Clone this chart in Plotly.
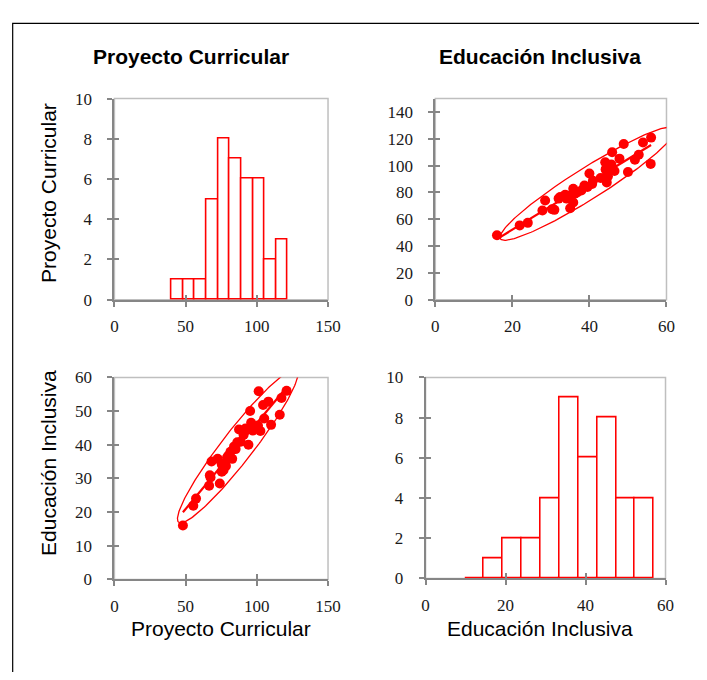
import numpy as np
import plotly.graph_objects as go

# ---------------- data ----------------
educacion_inclusiva = [16.0, 21.9, 24.0, 27.8, 30.3, 30.9, 32.0, 32.4, 33.7, 34.1,
                       35.0, 35.8, 35.8, 36.2, 37.9, 38.7, 40.0, 40.7, 40.9, 42.9,
                       44.1, 44.2, 45.1, 45.7, 45.9, 47.8, 48.9, 50.0, 51.8, 52.8,
                       53.9, 56.0, 55.9, 28.5, 34.5, 36.8, 39.5, 44.5, 44.8, 46.5]
proyecto_curricular = [48.1, 55.4, 57.3, 66.5, 67.5, 67.0, 75.4, 76.6, 78.3, 75.4,
                       68.2, 72.5, 82.7, 79.1, 81.5, 85.1, 94.1, 86.3, 88.7, 90.7,
                       102.5, 97.2, 98.9, 100.8, 110.0, 105.2, 116.1, 95.3, 104.4, 108.1,
                       117.3, 120.9, 101.3, 74.0, 77.5, 80.0, 84.0, 87.5, 92.0, 96.0]

pc_edges = [40.0, 48.18, 56.36, 64.54, 72.72, 80.9, 89.08, 97.26, 105.44, 113.62, 121.8]
pc_counts = [1, 1, 1, 5, 8, 7, 6, 6, 2, 3]
ei_edges = [9.9, 14.62, 19.34, 24.06, 28.78, 33.5, 38.22, 42.94, 47.66, 52.38, 57.1]
ei_counts = [0, 1, 2, 2, 4, 9, 6, 8, 4, 4]

title_pc = "Proyecto Curricular"
title_ei = "Educación Inclusiva"

RED = "#FF0000"
AXIS = "#868686"
FRAME = "#BFBFBF"

# the page body has an 8px margin; the figure fills the rest of the 707x680 window
OFF = 8
W, H = 707 - 2 * OFF, 680 - 2 * OFF


def px_x(v):
    return (v - OFF) / W


def px_y(v):
    return 1 - (v - OFF) / H


fig = go.Figure()


def add_hist(edges, counts, xa, ya):
    e = np.array(edges)
    c = np.array(counts)
    centers = (e[:-1] + e[1:]) / 2
    widths = e[1:] - e[:-1]
    fig.add_trace(go.Bar(x=centers, y=c, width=widths, base=0,
                         marker=dict(color="white", line=dict(color=RED, width=1.6)),
                         xaxis=xa, yaxis=ya, showlegend=False, hoverinfo="skip"))
    # zero-count bins: draw their flat outline
    zx = []
    zy = []
    for i in range(len(c)):
        if c[i] == 0:
            zx += [e[i], e[i + 1], None]
            zy += [0, 0, None]
    if zx:
        fig.add_trace(go.Scatter(x=zx, y=zy, mode="lines", line=dict(color=RED, width=2),
                                 xaxis=xa, yaxis=ya, showlegend=False, cliponaxis=False,
                                 hoverinfo="skip"))


def add_scatter(xv, yv, xa, ya):
    x = np.array(xv)
    y = np.array(yv)
    # confidence ellipse (95%)
    m = np.array([x.mean(), y.mean()])
    cov = np.cov(x, y)
    vals, vecs = np.linalg.eigh(cov)
    t = np.linspace(0, 2 * np.pi, 240)
    k = np.sqrt(5.991)
    pts = (vecs @ (np.sqrt(vals)[:, None] * np.vstack([np.cos(t), np.sin(t)]))) * k
    fig.add_trace(go.Scatter(x=m[0] + pts[0], y=m[1] + pts[1], mode="lines",
                             line=dict(color=RED, width=1.3), xaxis=xa, yaxis=ya,
                             showlegend=False, hoverinfo="skip"))
    # regression line
    b, a = np.polyfit(x, y, 1)
    xl = np.array([x.min(), x.max()])
    fig.add_trace(go.Scatter(x=xl, y=a + b * xl, mode="lines",
                             line=dict(color=RED, width=2.2), xaxis=xa, yaxis=ya,
                             showlegend=False, hoverinfo="skip"))
    fig.add_trace(go.Scatter(x=x, y=y, mode="markers",
                             marker=dict(color=RED, size=10), xaxis=xa, yaxis=ya,
                             showlegend=False))


add_hist(pc_edges, pc_counts, "x", "y")
add_scatter(educacion_inclusiva, proyecto_curricular, "x2", "y2")
add_scatter(proyecto_curricular, educacion_inclusiva, "x3", "y3")
add_hist(ei_edges, ei_counts, "x4", "y4")

# subplot geometry (window pixels)
boxes = {
    1: (113, 332, 92, 299),
    2: (442, 679, 92, 299),
    3: (113, 332, 379, 587),
    4: (432, 678, 379, 586),
}
ranges = {
    1: ([0, 150], 50, [0, 10], 2),
    2: ([0, 60], 20, [0, 150], 20),
    3: ([0, 150], 50, [0, 60], 10),
    4: ([0, 60], 20, [0, 10], 2),
}

tickfont = dict(family="Liberation Serif, Cambria, serif", size=17, color="#1a1a1a")
layout = {}
for i in range(1, 5):
    x0, x1, y0, y1 = boxes[i]
    xr, dx, yr, dy = ranges[i]
    xs = "" if i == 1 else str(i)
    ytop = 140 if i == 2 else yr[1]
    yvals = [float(v) for v in np.arange(yr[0], ytop + 0.001, dy)]
    xdom = [px_x(x0), px_x(x1)]
    ydom = [px_y(y1), px_y(y0)]
    common_x = dict(domain=xdom, range=xr, dtick=dx, tick0=0, showgrid=False,
                    zeroline=False, fixedrange=True)
    common_y = dict(domain=ydom, range=yr, tickvals=yvals, showgrid=False,
                    zeroline=False, fixedrange=True)
    layout["xaxis" + xs] = dict(common_x, anchor="y" + xs, showline=True, linecolor=AXIS,
                                linewidth=2, ticks="outside", ticklen=5, tickwidth=2,
                                tickcolor=AXIS, tickfont=tickfont, ticklabelstandoff=5)
    layout["yaxis" + xs] = dict(common_y, anchor="x" + xs, showline=True, linecolor=AXIS,
                                linewidth=2, ticks="outside", ticklen=5, tickwidth=2,
                                tickcolor=AXIS, tickfont=tickfont, ticklabelstandoff=12)
    # overlay axes for the inner half of crossing tick marks
    j = i + 4
    layout["xaxis%d" % j] = dict(common_x, anchor="y%d" % j, overlaying="x" + xs,
                                 showline=False, ticks="inside", ticklen=5, tickwidth=2,
                                 tickcolor=AXIS, showticklabels=False)
    layout["yaxis%d" % j] = dict(common_y, anchor="x%d" % j, overlaying="y" + xs,
                                 showline=False, ticks="inside", ticklen=5, tickwidth=2,
                                 tickcolor=AXIS, showticklabels=False)
    fig.add_trace(go.Scatter(x=[None], y=[None], xaxis="x%d" % j, yaxis="y%d" % j,
                             showlegend=False, hoverinfo="skip"))

shapes = []
for i in range(1, 5):
    xs = "" if i == 1 else str(i)
    shapes.append(dict(type="rect", xref="x" + xs + " domain", yref="y" + xs + " domain",
                       x0=0, x1=1, y0=0, y1=1, line=dict(color=FRAME, width=1.5),
                       layer="below"))
# outer border (runs off the right and bottom of the window)
shapes.append(dict(type="rect", xref="paper", yref="paper", x0=px_x(8.7), x1=1.05,
                   y0=-0.05, y1=px_y(14.5), line=dict(color="black", width=1.2)))

sans = "Liberation Sans, Arial, sans-serif"


def ann(text, x, y, angle=0, size=21):
    return dict(text=text, x=px_x(x), y=px_y(y), xref="paper", yref="paper",
                xanchor="center", yanchor="middle", textangle=angle, showarrow=False,
                font=dict(family=sans, size=size, color="black"))


annotations = [
    ann("<b>" + title_pc + "</b>", 192, 49),
    ann("<b>" + title_ei + "</b>", 549, 49),
    ann(title_pc, 222, 637),
    ann(title_ei, 549, 637),
    ann(title_pc, 46, 189, -90),
    ann(title_ei, 46, 467, -90),
]

fig.update_layout(width=W, height=H, margin=dict(l=0, r=0, t=0, b=0),
                  paper_bgcolor="white", plot_bgcolor="white",
                  shapes=shapes, annotations=annotations, bargap=0, **layout)

fig.write_html("out.html")
